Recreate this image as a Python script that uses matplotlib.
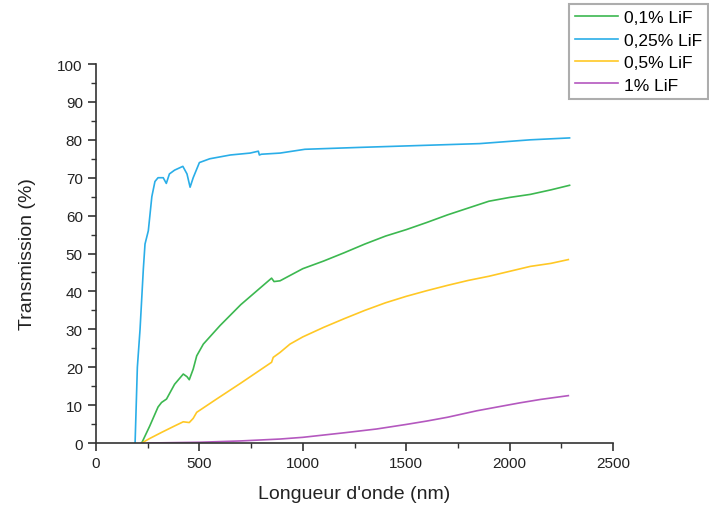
import matplotlib
matplotlib.use("Agg")
import matplotlib.pyplot as plt
from matplotlib.ticker import MultipleLocator

# Data
x_025 = [189, 200, 213, 229, 237, 253, 270, 285, 300, 325, 340, 355, 380, 420, 440, 455, 470, 500, 550, 650, 745, 785, 790, 800, 890, 1010, 1275, 1565, 1855, 2100, 2290]
y_025 = [0, 20, 30, 46, 52.5, 56, 65, 69, 70, 70, 68.5, 71, 72, 73, 71, 67.5, 70, 74, 75, 76, 76.5, 77, 76, 76.2, 76.5, 77.5, 78, 78.5, 79, 80, 80.5]

x_01 = [221, 260, 300, 317, 341, 380, 422, 440, 451, 470, 487, 519, 600, 700, 800, 849, 861, 890, 938, 1000, 1100, 1200, 1300, 1400, 1500, 1600, 1700, 1800, 1900, 2000, 2100, 2200, 2290]
y_01 = [0, 4.5, 9.5, 10.7, 11.6, 15.5, 18.2, 17.5, 16.7, 19.5, 23, 26.1, 31, 36.5, 41.2, 43.5, 42.6, 42.8, 44.2, 46, 48, 50.2, 52.5, 54.6, 56.3, 58.2, 60.2, 62, 63.8, 64.8, 65.6, 66.8, 68]

x_05 = [221, 260, 317, 380, 422, 451, 470, 487, 583, 700, 849, 857, 890, 938, 1000, 1100, 1200, 1300, 1400, 1500, 1600, 1700, 1800, 1900, 2000, 2100, 2200, 2284]
y_05 = [0, 1.2, 2.8, 4.5, 5.6, 5.4, 6.5, 8.1, 11.6, 15.8, 21.3, 22.6, 23.9, 26.1, 28, 30.5, 32.8, 35, 37, 38.7, 40.2, 41.6, 42.9, 44, 45.3, 46.6, 47.4, 48.4]

x_1 = [250, 500, 700, 890, 1000, 1100, 1200, 1357, 1500, 1600, 1700, 1841, 1950, 2050, 2150, 2284]
y_1 = [0, 0.2, 0.55, 1.05, 1.5, 2.1, 2.7, 3.7, 4.9, 5.8, 6.8, 8.5, 9.6, 10.6, 11.5, 12.5]

series = [
    ("0,1% LiF", x_01, y_01, "#3cb850"),
    ("0,25% LiF", x_025, y_025, "#2aaee8"),
    ("0,5% LiF", x_05, y_05, "#ffc825"),
    ("1% LiF", x_1, y_1, "#b458bf"),
]

plt.rcParams['font.family'] = ['Liberation Sans', 'DejaVu Sans']

fig = plt.figure(figsize=(7.09, 5.06), dpi=100)
ax = fig.add_axes([0.1354, 0.1225, 0.7292, 0.749])

for label, xs, ys, c in series:
    ax.plot(xs, ys, color=c, lw=1.2, label=label)

ax.set_xlim(0, 2500)
ax.set_ylim(0, 100)
ax.xaxis.set_major_locator(MultipleLocator(500))
ax.xaxis.set_minor_locator(MultipleLocator(250))
ax.yaxis.set_major_locator(MultipleLocator(10))
ax.yaxis.set_minor_locator(MultipleLocator(5))
for s in ['top', 'right']:
    ax.spines[s].set_visible(False)
for s in ['left', 'bottom']:
    ax.spines[s].set_color('#333333')
    ax.spines[s].set_linewidth(1.2)
ax.tick_params(which='major', direction='out', length=6, width=1.2, color='#333333', labelsize=11, labelcolor='#222222')
ax.tick_params(which='minor', direction='out', length=3.5, width=1.0, color='#333333')

ax.set_xlabel("Longueur d'onde (nm)", fontsize=14, color='#222222', labelpad=11)
ax.set_ylabel("Transmission (%)", fontsize=14, color='#222222', labelpad=15)

leg = fig.legend(loc='upper right', bbox_to_anchor=(0.999, 1 - 5 / 506), fontsize=12.5,
                 frameon=True, fancybox=False, edgecolor='#999999',
                 handlelength=2.5, handletextpad=0.35, borderpad=0.35,
                 labelspacing=0.42, borderaxespad=0)
leg.get_frame().set_linewidth(1.5)

fig.savefig("out.png", dpi=100)
